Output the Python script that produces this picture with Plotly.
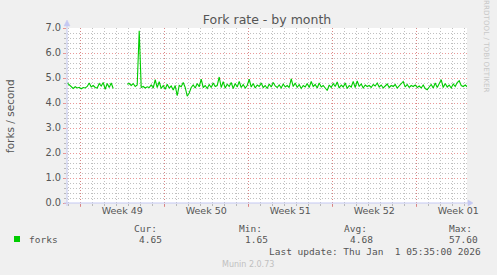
import plotly.graph_objects as go
import pandas as pd

# ---- data ----
start_time = "2025-11-28 22:00"
step = "4h"
forks = [
    4.80, 4.72, 4.62, 4.58, 4.65, 4.60, 4.63, 4.57, 4.62, 4.60, 4.66, 4.80,
    4.64, 4.70, 4.62, 4.60, 4.78, 4.68, 4.82, 4.55, 4.78, 4.62, 4.80, 4.58,
    None, None, None, None, None, None,
    4.75, 4.78, 4.70, 4.78, 4.66, 4.72,
    6.89,
    4.62, 4.66, 4.60, 4.65, 4.62, 4.72, 4.60,
    4.93,
    4.62, 4.85, 4.58, 4.70, 4.55, 4.75, 4.60, 4.68, 4.52, 4.70,
    4.29,
    4.70, 4.65, 4.82, 4.62,
    4.27,
    4.40, 4.62, 4.72, 4.60, 4.78, 4.65, 4.95, 4.62, 4.70, 4.58, 4.74, 4.62, 4.80, 4.66, 4.70,
    5.04,
    4.62, 4.85, 4.60, 4.75, 4.66, 4.82, 4.58, 4.78, 4.64, 4.86, 4.62, 4.74, 4.60, 4.70,
    4.95, 4.64, 4.78, 4.60, 4.72, 4.66, 4.80, 4.62, 4.70, 4.58, 4.76, 4.64, 4.82, 4.68,
    4.62, 4.72, 4.60, 4.76, 4.64, 4.70, 4.62, 4.97, 4.66, 4.80, 4.62, 4.74,
    4.58, 4.70, 4.64, 4.78, 4.62, 4.86, 4.66, 4.74, 4.60, 4.80, 4.64, 4.70,
    4.58, 4.50, 4.72, 4.62, 4.78, 4.66, 4.84, 4.60, 4.72, 4.64, 4.80, 4.58,
    4.70, 4.64, 4.86, 4.62, 4.88, 4.66, 4.76, 4.60, 4.72, 4.66, 4.70, 4.62,
    4.74, 4.68, 4.80, 4.64, 4.72, 4.60, 4.68, 4.76, 4.62, 4.70, 4.66, 4.74,
    4.60, 4.70, 4.78, 4.86, 4.64, 4.74, 4.62, 4.70, 4.66, 4.72, 4.62, 4.68,
    4.60, 4.72, 4.58, 4.53, 4.64, 4.74, 4.60, 4.80, 4.62, 4.76, 4.93, 4.62,
    4.78, 4.64, 4.72, 4.60, 4.76, 4.66, 4.82, 4.89, 4.70, 4.66, 4.72, 4.65,
]
x_range = ["2025-11-28 21:35", "2026-01-01 05:35"]
week_starts = ["2025-11-30", "2025-12-07", "2025-12-14", "2025-12-21", "2025-12-28"]
week_centers = ["2025-12-03 12:00", "2025-12-10 12:00", "2025-12-17 12:00",
                "2025-12-24 12:00", "2025-12-31 12:00"]
week_labels = ["Week 49", "Week 50", "Week 51", "Week 52", "Week 01"]
y_range = [0, 7]

series_name = "forks"
cur_val, min_val, avg_val, max_val = "4.65", "1.65", "4.68", "57.60"
title_text = "Fork rate - by month"
y_title = "forks / second"
last_update = "Last update: Thu Jan\u00a0 1 05:35:00 2026"
footer = "Munin 2.0.73"
side_text = "RRDTOOL / TOBI OETIKER"

times = pd.date_range(start_time, periods=len(forks), freq=step)

# ---- styling ----
W, H = 497, 275
L, R, T, B = 67, 30, 28, 72
PW, PH = W - L - R, H - T - B
GREEN = "#00CC00"
MAJ = "rgba(225,110,110,0.7)"
MIN = "rgba(140,140,140,0.55)"
DASH = "1px,2px"
AXC = "#C4C8F2"
TXT = "#555555"
SANS = "DejaVu Sans"
MONO = "DejaVu Sans Mono"


def fx(px):
    return (px - L) / PW


def fy(py):
    return (H - B - py) / PH


fig = go.Figure()
fig.add_trace(go.Scatter(x=times, y=forks, mode="lines",
                         line=dict(color=GREEN, width=1.1),
                         connectgaps=False, showlegend=False, hoverinfo="skip"))
fig.add_trace(go.Scatter(x=times[:1], y=[None], xaxis="x2", mode="lines",
                         showlegend=False, hoverinfo="skip"))

fig.update_layout(
    width=W, height=H,
    margin=dict(l=L, r=R, t=T, b=B),
    paper_bgcolor="#F0F0F0", plot_bgcolor="#FFFFFF",
    font=dict(family=SANS, size=10, color=TXT),
    title=dict(text=title_text, x=0.5, xref="paper", xanchor="center",
               y=1 - 20 / H, yanchor="middle", font=dict(size=12.5, color=TXT)),
    xaxis=dict(type="date", range=x_range, tickmode="array",
               tickvals=week_centers, ticktext=week_labels,
               showgrid=False, zeroline=False, showline=False, ticks="",
               tickfont=dict(size=9.5, color=TXT),
               minor=dict(tick0="2025-11-29", dtick=86400000, showgrid=True,
                          gridcolor=MIN, griddash=DASH, gridwidth=1,
                          ticks="outside", ticklen=2, tickcolor=MIN)),
    xaxis2=dict(type="date", range=x_range, overlaying="x", anchor="y", side="bottom",
                tickmode="array", tickvals=week_starts, showticklabels=False,
                showgrid=True, gridcolor=MAJ, griddash=DASH, gridwidth=1,
                ticks="outside", ticklen=3, tickcolor=MAJ, zeroline=False, showline=False),
    yaxis=dict(range=y_range, dtick=1, tickformat=".1f", showgrid=True,
               gridcolor=MAJ, griddash=DASH, gridwidth=1, zeroline=False,
               showline=False, ticks="outside", ticklen=3, tickcolor=MAJ,
               tickfont=dict(size=9.8, color=TXT),
               minor=dict(dtick=0.2, showgrid=True, gridcolor=MIN, griddash=DASH,
                          gridwidth=1, ticks="outside", ticklen=2, tickcolor=MIN)),
)

# axis lines with arrows (decoration)
shapes = [
    dict(type="line", xref="paper", yref="paper", x0=fx(64), x1=fx(469), y0=0, y1=0,
         line=dict(color=AXC, width=1)),
    dict(type="line", xref="paper", yref="paper", x0=0, x1=0, y0=fy(206), y1=fy(24),
         line=dict(color=AXC, width=1)),
    dict(type="path", xref="paper", yref="paper",
         path=f"M {fx(468)},{fy(200)} L {fx(473)},{fy(203)} L {fx(468)},{fy(206)} Z",
         fillcolor=AXC, line=dict(color=AXC, width=0.5)),
    dict(type="path", xref="paper", yref="paper",
         path=f"M {fx(64)},{fy(26)} L {fx(67)},{fy(20)} L {fx(70)},{fy(26)} Z",
         fillcolor=AXC, line=dict(color=AXC, width=0.5)),
    dict(type="rect", xref="paper", yref="paper", x0=fx(14), x1=fx(20),
         y0=fy(242), y1=fy(236), fillcolor=GREEN, line=dict(width=0)),
]
fig.update_layout(shapes=shapes)


def txt(s, px, py, anchor="left", font=MONO, size=9.5, color=TXT, angle=0):
    fig.add_annotation(text=s, x=fx(px), y=fy(py), xref="paper", yref="paper",
                       xanchor=anchor, yanchor="middle", showarrow=False,
                       textangle=angle, font=dict(family=font, size=size, color=color))


txt(y_title, 10, 116, anchor="center", font=SANS, size=10.5, angle=-90)
txt(series_name, 27, 239)
txt("Cur:", 131.5, 228)
txt(cur_val, 136.5, 239)
txt("Min:", 237, 228)
txt(min_val, 243, 239)
txt("Avg:", 342, 228)
txt(avg_val, 348, 239)
txt("Max:", 447, 228)
txt(max_val, 447, 239)
txt(last_update, 483, 251.5, anchor="right")
txt(footer, 248, 264, anchor="center", font=SANS, size=8, color="#C0C0C0")
txt(side_text, 487, 46, anchor="center", font=SANS, size=7.2, color="#C8C8C8", angle=90)

fig.write_html("out.html")
